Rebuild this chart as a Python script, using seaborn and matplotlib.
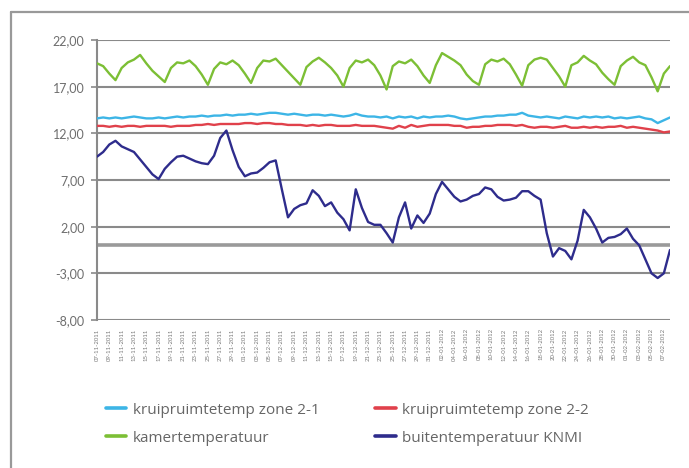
import numpy as np
import pandas as pd
import matplotlib
matplotlib.use("Agg")
import matplotlib.pyplot as plt
import matplotlib.lines as mlines
import seaborn as sns

# dagelijkse waarden
dates = pd.date_range("2011-11-07", periods=94, freq="D")

zone_2_1 = [13.6, 13.7, 13.6, 13.7, 13.6, 13.7, 13.8, 13.7, 13.6, 13.6,
            13.7, 13.6, 13.7, 13.8, 13.7, 13.8, 13.8, 13.9, 13.8, 13.9,
            13.9, 14.0, 13.9, 14.0, 14.0, 14.1, 14.0, 14.1, 14.2, 14.2,
            14.1, 14.0, 14.1, 14.0, 13.9, 14.0, 14.0, 13.9, 14.0, 13.9,
            13.8, 13.9, 14.1, 13.9, 13.8, 13.8, 13.7, 13.8, 13.6, 13.8,
            13.7, 13.8, 13.6, 13.8, 13.7, 13.8, 13.8, 13.9, 13.8, 13.6,
            13.5, 13.6, 13.7, 13.8, 13.8, 13.9, 13.9, 14.0, 14.0, 14.2,
            13.9, 13.8, 13.7, 13.8, 13.7, 13.6, 13.8, 13.7, 13.6, 13.8,
            13.7, 13.8, 13.7, 13.8, 13.6, 13.7, 13.6, 13.7, 13.8, 13.6,
            13.5, 13.1, 13.4, 13.7]

zone_2_2 = [12.8, 12.8, 12.7, 12.8, 12.7, 12.8, 12.8, 12.7, 12.8, 12.8,
            12.8, 12.8, 12.7, 12.8, 12.8, 12.8, 12.9, 12.9, 13.0, 12.9,
            13.0, 13.0, 13.0, 13.0, 13.1, 13.1, 13.0, 13.1, 13.1, 13.0,
            13.0, 12.9, 12.9, 12.9, 12.8, 12.9, 12.8, 12.9, 12.9, 12.8,
            12.8, 12.8, 12.9, 12.8, 12.8, 12.8, 12.7, 12.6, 12.5, 12.8,
            12.6, 12.9, 12.7, 12.8, 12.9, 12.9, 12.9, 12.9, 12.8, 12.8,
            12.6, 12.7, 12.7, 12.8, 12.8, 12.9, 12.9, 12.9, 12.8, 12.9,
            12.7, 12.6, 12.7, 12.7, 12.6, 12.7, 12.8, 12.6, 12.6, 12.7,
            12.6, 12.7, 12.6, 12.7, 12.7, 12.8, 12.6, 12.7, 12.6, 12.5,
            12.4, 12.3, 12.1, 12.2]

kamer = [19.5, 19.2, 18.4, 17.7, 19.0, 19.6, 19.9, 20.4, 19.5, 18.7,
         18.1, 17.5, 19.0, 19.6, 19.5, 19.8, 19.2, 18.3, 17.2, 18.9,
         19.6, 19.4, 19.8, 19.3, 18.4, 17.4, 19.0, 19.8, 19.7, 20.0,
         19.3, 18.6, 17.9, 17.2, 19.1, 19.7, 20.1, 19.6, 19.0, 18.2,
         17.0, 19.0, 19.8, 19.6, 19.9, 19.3, 18.2, 16.7, 19.2, 19.7,
         19.5, 19.9, 19.2, 18.2, 17.4, 19.3, 20.6, 20.2, 19.8, 19.3,
         18.3, 17.6, 17.2, 19.4, 19.9, 19.7, 20.0, 19.4, 18.3, 17.1,
         19.3, 19.9, 20.1, 19.9, 19.0, 18.1, 17.0, 19.3, 19.6, 20.3,
         19.8, 19.4, 18.5, 17.8, 17.2, 19.2, 19.8, 20.2, 19.6, 19.3,
         18.0, 16.5, 18.4, 19.2]

buiten = [9.5, 10.0, 10.8, 11.2, 10.6, 10.3, 10.0, 9.2, 8.4, 7.6,
          7.1, 8.2, 8.9, 9.5, 9.6, 9.3, 9.0, 8.8, 8.7, 9.6,
          11.5, 12.3, 10.2, 8.4, 7.4, 7.7, 7.8, 8.3, 8.9, 9.1,
          6.0, 3.0, 3.9, 4.3, 4.5, 5.9, 5.3, 4.2, 4.6, 3.5,
          2.8, 1.6, 6.0, 4.0, 2.5, 2.2, 2.2, 1.3, 0.3, 3.0,
          4.6, 1.8, 3.2, 2.4, 3.4, 5.5, 6.8, 6.0, 5.2, 4.7,
          4.9, 5.3, 5.5, 6.2, 6.0, 5.2, 4.8, 4.9, 5.1, 5.8,
          5.8, 5.3, 4.9, 1.3, -1.2, -0.3, -0.6, -1.5, 0.5, 3.8,
          3.0, 1.8, 0.3, 0.8, 0.9, 1.2, 1.8, 0.7, 0.0, -1.5,
          -3.0, -3.5, -3.0, -0.5]

series_names = ["kruipruimtetemp zone 2-1", "kruipruimtetemp zone 2-2",
                "kamertemperatuur", "buitentemperatuur KNMI"]
colors = ["#3db5e6", "#e0414b", "#7cbf35", "#2e2c8c"]
y_ticks = [-8, -3, 2, 7, 12, 17, 22]

df = pd.DataFrame({
    "dag": np.tile(np.arange(len(dates)), 4),
    "temperatuur": zone_2_1 + zone_2_2 + kamer + buiten,
    "reeks": np.repeat(series_names, len(dates)),
})

sns.set_style("white")
plt.rcParams["font.family"] = ["Lato", "DejaVu Sans"]

fig = plt.figure(figsize=(6.89, 4.68), dpi=100)
ax = fig.add_axes([97 / 689, 1 - 320 / 468, 573 / 689, 280 / 468])

grid_col = "#8a8a8a"
for t in y_ticks:
    ax.axhline(t, color=grid_col, lw=1.5, zorder=1)
ax.axhline(0, color="#9a9a9a", lw=2.6, zorder=1)

sns.lineplot(data=df, x="dag", y="temperatuur", hue="reeks",
             hue_order=series_names, palette=colors, lw=1.7,
             legend=False, ax=ax, zorder=3)

ax.set_xlim(0, len(dates) - 1)
ax.set_ylim(-8, 22)
ax.set_yticks(y_ticks)
ax.set_yticklabels([f"{t},00" for t in y_ticks], color="#6e6e6e", fontsize=9)
ax.tick_params(axis="y", length=4, width=1.2, color=grid_col, pad=5, left=True)

tick_pos = list(range(0, len(dates), 2))
ax.set_xticks(tick_pos)
ax.set_xticklabels([dates[i].strftime("%d-%m-%Y") for i in tick_pos],
                   rotation=90, fontsize=4.3, color="#7a7a7a")
ax.tick_params(axis="x", length=0, pad=6)
ax.set_xlabel("")
ax.set_ylabel("")

for s in ["top", "right", "bottom"]:
    ax.spines[s].set_visible(False)
ax.spines["left"].set_color(grid_col)
ax.spines["left"].set_linewidth(1.5)

# rand om de figuur
fig.add_artist(mlines.Line2D([11 / 689, 11 / 689], [0, 1 - 12 / 468],
                             transform=fig.transFigure, color="#999999", lw=1.6))
fig.add_artist(mlines.Line2D([11 / 689, 1], [1 - 12 / 468, 1 - 12 / 468],
                             transform=fig.transFigure, color="#999999", lw=1.6))

# volgorde zodat rij 1 = zone 2-1, zone 2-2 en rij 2 = kamer, buiten
order = [0, 2, 1, 3]
handles = [mlines.Line2D([], [], color=colors[i], lw=2.6) for i in order]
labels = [series_names[i] for i in order]
fig.legend(handles, labels, ncol=2, loc="upper left",
           bbox_to_anchor=(92 / 689, 1 - 389 / 468), frameon=False,
           prop={"family": ["Open Sans", "DejaVu Sans"], "size": 11},
           labelcolor="#666666", handlelength=1.35,
           handletextpad=0.45, columnspacing=3.6, labelspacing=0.85)

fig.savefig("out.png", dpi=100)
